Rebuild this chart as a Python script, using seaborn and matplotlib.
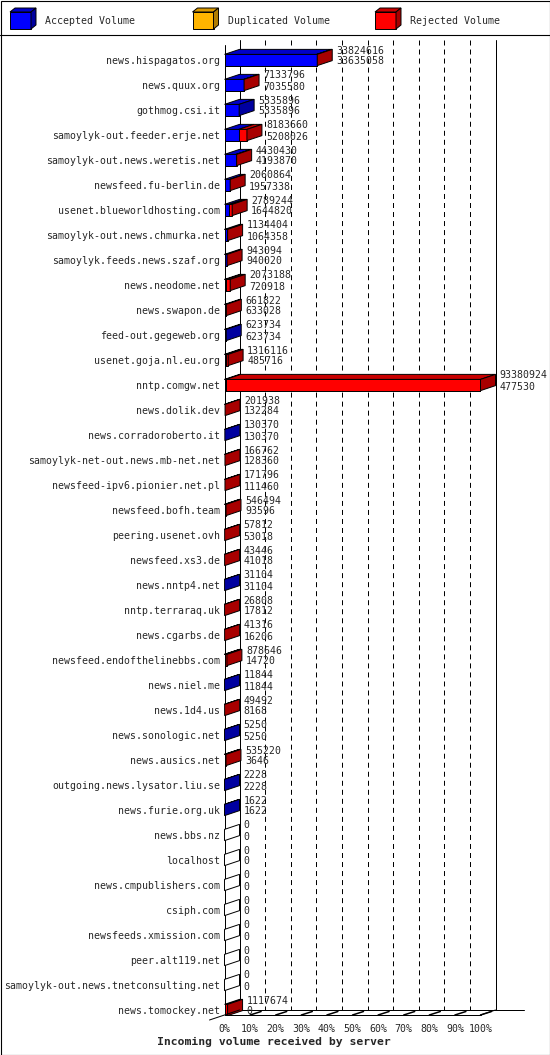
import numpy as np
import pandas as pd
import matplotlib
matplotlib.use("Agg")
import matplotlib.pyplot as plt
import seaborn as sns
from matplotlib.patches import Polygon, Rectangle
from matplotlib.lines import Line2D
from matplotlib.transforms import IdentityTransform

# =========================================
# DATA
# =========================================

servers = [
    "news.hispagatos.org", "news.quux.org", "gothmog.csi.it",
    "samoylyk-out.feeder.erje.net", "samoylyk-out.news.weretis.net",
    "newsfeed.fu-berlin.de", "usenet.blueworldhosting.com",
    "samoylyk-out.news.chmurka.net", "samoylyk.feeds.news.szaf.org",
    "news.neodome.net", "news.swapon.de", "feed-out.gegeweb.org",
    "usenet.goja.nl.eu.org", "nntp.comgw.net", "news.dolik.dev",
    "news.corradoroberto.it", "samoylyk-net-out.news.mb-net.net",
    "newsfeed-ipv6.pionier.net.pl", "newsfeed.bofh.team",
    "peering.usenet.ovh", "newsfeed.xs3.de", "news.nntp4.net",
    "nntp.terraraq.uk", "news.cgarbs.de", "newsfeed.endofthelinebbs.com",
    "news.niel.me", "news.1d4.us", "news.sonologic.net", "news.ausics.net",
    "outgoing.news.lysator.liu.se", "news.furie.org.uk", "news.bbs.nz",
    "localhost", "news.cmpublishers.com", "csiph.com",
    "newsfeeds.xmission.com", "peer.alt119.net",
    "samoylyk-out.news.tnetconsulting.net", "news.tomockey.net",
]

total_volume = [
    33824616, 7133796, 5335896, 8183660, 4430430, 2060864, 2789244,
    1134404, 943094, 2073188, 661822, 623734, 1316116, 93380924,
    201938, 130370, 166762, 171796, 546494, 57812, 43446, 31104,
    26808, 41316, 878646, 11844, 49492, 5250, 535220, 2228, 1622,
    0, 0, 0, 0, 0, 0, 0, 1117674,
]

accepted_volume = [
    33635058, 7035580, 5335896, 5208026, 4193870, 1957338, 1644820,
    1064358, 940020, 720918, 633028, 623734, 485716, 477530,
    132284, 130370, 128360, 111460, 93596, 53018, 41018, 31104,
    17812, 16206, 14720, 11844, 8168, 5250, 3646, 2228, 1622,
    0, 0, 0, 0, 0, 0, 0, 0,
]

legend_names = ["Accepted Volume", "Duplicated Volume", "Rejected Volume"]

# =========================================
# STYLE
# =========================================

BLUE, BLUE_TOP, BLUE_SIDE = "#0000ff", "#0000c8", "#0000a0"
RED, RED_TOP, RED_SIDE = "#ff0000", "#c80000", "#a80000"
ORANGE, ORANGE_TOP, ORANGE_SIDE = "#ffb400", "#d89800", "#b07c00"

sns.set_style("white")
plt.rcParams["font.family"] = ["DejaVu Sans Mono"]
plt.rcParams["lines.scale_dashes"] = False

W, H = 550, 1055
DX, DY = 15, 5          # 3D depth, pixels
FS = 7.15

df = pd.DataFrame({
    "server": servers,
    "total": np.array(total_volume) / max(total_volume) * 100,
    "accepted": np.array(accepted_volume) / max(total_volume) * 100,
})

fig = plt.figure(figsize=(W / 100, H / 100), dpi=100)
ax = fig.add_axes([224.5 / W, 1 - 1015 / H, 256 / W, 975 / H])

# front faces
sns.barplot(data=df, x="total", y="server", orient="h", color=RED,
            saturation=1, width=0.45, edgecolor="black", linewidth=0.7,
            ax=ax, zorder=3)
sns.barplot(data=df, x="accepted", y="server", orient="h", color=BLUE,
            saturation=1, width=0.45, edgecolor="black", linewidth=0.7,
            ax=ax, zorder=3)

ax.set_xlim(0, 100)
ax.set_ylim(38.2, -0.8)
for s in ax.spines.values():
    s.set_visible(False)

ax.set_xlabel("")
ax.set_ylabel("")
ax.set_xticks(np.arange(0, 101, 10))
ax.set_xticklabels([f"{p}%" for p in range(0, 101, 10)])
ax.tick_params(axis="x", length=3, width=0.72, color="black", pad=3.5,
               labelsize=FS, direction="out")
ax.tick_params(axis="y", length=0, pad=3.3, labelsize=FS)


def disp(x, y):
    return ax.transData.transform((x, y))


def poly(pts, color, z=4):
    ax.add_patch(Polygon(pts, closed=True, facecolor=color,
                         edgecolor="black", linewidth=0.7,
                         transform=IdentityTransform(), clip_on=False,
                         zorder=z))


def line(p0, p1, z=1, lw=0.72, **kw):
    ax.add_line(Line2D([p0[0], p1[0]], [p0[1], p1[1]], color="black",
                       linewidth=lw, transform=IdentityTransform(),
                       clip_on=False, zorder=z, **kw))


# =========================================
# WALLS / FLOOR
# =========================================

x0, top = disp(0, -0.8)
x100, floor = disp(100, 38.2)

line((x0, top - 5), (x0, floor))
line((x0 + DX, top), (x0 + DX, floor + DY))
line((x100 + DX, top), (x100 + DX, floor + DY))
line((x0 + DX, floor + DY), (x100 + DX + 28, floor + DY))
line((x0, floor), (x100, floor), z=5)
line((x0 - DX, floor - DY), (x0 + DX, floor + DY), z=5)
line((x100, floor), (x100 + DX, floor + DY), z=5)

for p in range(10, 100, 10):
    xb = disp(p, 0)[0] + DX
    line((xb, top), (xb, floor + DY), z=0.5, linestyle=(0, (3.6, 2.9)))
for p in range(10, 101, 10):
    xf = disp(p, 0)[0]
    line((xf, floor), (xf + 11, floor + 3.5), z=5, lw=1.1)

# =========================================
# 3D FACES + VALUES
# =========================================

half = 0.225
for i, row in df.iterrows():
    xa = row["accepted"]
    xt = row["total"]
    segs = [(0, xa, BLUE_TOP), (xa, xt, RED_TOP)]
    for a, b, c in segs:
        if b - a <= 0:
            continue
        pa = disp(a, i - half)
        pb = disp(b, i - half)
        poly([pa, pb, (pb[0] + DX, pb[1] + DY), (pa[0] + DX, pa[1] + DY)], c)
    if xt <= 0:
        side = "white"
    elif xt > xa:
        side = RED_SIDE
    else:
        side = BLUE_SIDE
    pt = disp(xt, i - half)
    pbm = disp(xt, i + half)
    poly([pt, pbm, (pbm[0] + DX, pbm[1] + DY), (pt[0] + DX, pt[1] + DY)],
         side)

    ax.annotate(f"{total_volume[i]}", xy=(xt, i), xycoords="data",
                xytext=(DX + 4, 9.5), textcoords="offset pixels",
                ha="left", va="center", fontsize=FS, annotation_clip=False)
    ax.annotate(f"{accepted_volume[i]}", xy=(xt, i), xycoords="data",
                xytext=(DX + 4, -1.5), textcoords="offset pixels",
                ha="left", va="center", fontsize=FS, annotation_clip=False)

fig.text(274 / W, 1 - 1042 / H, "Incoming volume received by server",
         ha="center", va="center", fontsize=8.2, fontweight="bold")

# =========================================
# LEGEND
# =========================================

def box3d(x, y, w, h, front, topc, sidec):
    # x, y = top-left in image pixels
    yb = H - y - h
    yt = H - y
    d, e = 5, 4
    fig.patches.append(Rectangle((x, yb), w, h, facecolor=front,
                                 edgecolor="black", linewidth=0.7,
                                 transform=IdentityTransform(), figure=fig))
    fig.patches.append(Polygon([(x, yt), (x + w, yt), (x + w + d, yt + e),
                                (x + d, yt + e)], facecolor=topc,
                               edgecolor="black", linewidth=0.7,
                               transform=IdentityTransform(), figure=fig))
    fig.patches.append(Polygon([(x + w, yt), (x + w, yb), (x + w + d, yb + e),
                                (x + w + d, yt + e)], facecolor=sidec,
                               edgecolor="black", linewidth=0.7,
                               transform=IdentityTransform(), figure=fig))


legend_x = [10, 192.5, 375]
legend_cols = [(BLUE, BLUE_TOP, BLUE_SIDE), (ORANGE, ORANGE_TOP, ORANGE_SIDE),
               (RED, RED_TOP, RED_SIDE)]
for lx, name, cols in zip(legend_x, legend_names, legend_cols):
    box3d(lx, 12, 21, 17, *cols)
    fig.text((lx + 35) / W, 1 - 20.5 / H, name, ha="left", va="center",
             fontsize=FS)

fig.add_artist(Line2D([0, W], [H - 34.5, H - 34.5], color="black",
                      linewidth=0.8, transform=IdentityTransform()))
fig.add_artist(Rectangle((0.5, 0.5), W - 1, H - 1, fill=False,
                         edgecolor="black", linewidth=0.8,
                         transform=IdentityTransform()))

fig.savefig("out.png", dpi=100)
